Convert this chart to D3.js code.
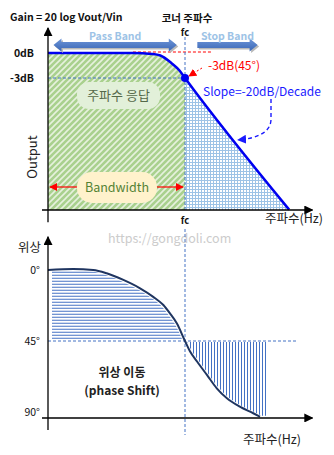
<!DOCTYPE html>
<html><head><meta charset="utf-8">
<script src="https://cdn.jsdelivr.net/npm/d3@7"></script>
<style>
body{margin:0;background:#fff}
svg{display:block}
text{font-family:"Noto Sans CJK KR","Noto Sans",sans-serif}
</style>
</head><body>
<svg id="c" width="334" height="455"></svg>
<script>
// ---- data (frequency position u, fc = 50) ----
const gainFreq = [0, 31, 38, 41, 45, 48, 50, 88];
const gainDb   = [0, 0, -0.12, -0.3, -1.2, -2.1, -3, -18.8];
const gainTicks = [0, -3];
const phaseFreq = [0, 9.2, 16.5, 21.4, 27.5, 33.6, 38.4, 42.1, 44.5, 47, 50, 51.8, 54.4, 58, 61.6, 65.3, 70, 74.9, 77.4];
const phaseDeg  = [0, -0.6, 0, 2.1, 6.3, 11.6, 17, 22.2, 27.5, 33.8, 45, 51.5, 58, 66.5, 75, 81.3, 86.6, 90.8, 93];
const phaseTicks = [0, 45, 90];
const fc = 50;
const bandNames = ["Pass Band", "Stop Band"];
const bandFrom  = [2, 54.5];
const bandTo    = [47, 76.5];
const bandBoth  = [true, false];
const gainBase = -18.84, gainTop = 3, gainBottom = -20.3;
const phaseBase = 93.8, phaseTop = -21, phaseBottom = 101.4;
const hatchEnd = 79.6;

const svg = d3.select("#c");
const defs = svg.append("defs");
const x = d3.scaleLinear().domain([0, 100]).range([48, 322]);
const yG = d3.scaleLinear().domain([0, -3]).range([53, 78]);
const yP = d3.scaleLinear().domain([0, 90]).range([270, 412]);

const gain = gainFreq.map((u, i) => ({u, v: gainDb[i]}));
const phase = phaseFreq.map((u, i) => ({u, v: phaseDeg[i]}));

// patterns
const gp = defs.append("pattern").attr("id", "green").attr("patternUnits", "userSpaceOnUse").attr("width", 6).attr("height", 6);
gp.append("rect").attr("width", 6).attr("height", 6).attr("fill", "#a9d18e");
gp.append("path").attr("d", "M-1,7L7,-1M-1,1L1,-1M5,7L7,5").attr("stroke", "#e6f1dd").attr("stroke-width", 1.6);
const gr = defs.append("pattern").attr("id", "grid").attr("patternUnits", "userSpaceOnUse").attr("width", 3).attr("height", 3);
gr.append("rect").attr("width", 3).attr("height", 3).attr("fill", "#fff");
gr.append("path").attr("d", "M0,0.5H3M0.5,0V3").attr("stroke", "#9dc3e6").attr("stroke-width", 1);
const grad = defs.append("linearGradient").attr("id", "arrowGrad").attr("x1", 0).attr("x2", 0).attr("y1", 0).attr("y2", 1);
grad.append("stop").attr("offset", "0%").attr("stop-color", "#6d95d8");
grad.append("stop").attr("offset", "100%").attr("stop-color", "#3a66b5");

function marker(id, color, size) {
  defs.append("marker").attr("id", id).attr("viewBox", "0 0 10 10")
    .attr("refX", 9).attr("refY", 5).attr("markerWidth", size).attr("markerHeight", size)
    .attr("orient", "auto").attr("markerUnits", "userSpaceOnUse")
    .append("path").attr("d", "M0,0L10,5L0,10z").attr("fill", color);
}
marker("ab", "#000", 9);
marker("ar", "#ff0000", 8);
marker("abl", "#1a1aff", 9);

const line = d3.line().x(d => x(d.u)).curve(d3.curveMonotoneX);

// ---- top chart: gain ----
const gainLeft = gain.filter(d => d.u <= fc);
const gainRight = gain.filter(d => d.u >= fc);
svg.append("path").datum(gainLeft)
  .attr("d", d3.area().x(d => x(d.u)).y0(yG(gainBase)).y1(d => yG(d.v)).curve(d3.curveMonotoneX))
  .attr("fill", "url(#green)");
svg.append("path").datum(gainRight)
  .attr("d", d3.area().x(d => x(d.u)).y0(yG(gainBase)).y1(d => yG(d.v)).curve(d3.curveMonotoneX))
  .attr("fill", "url(#grid)");

// dashed helper lines
svg.append("line").attr("x1", x(0)).attr("x2", x(fc)).attr("y1", yG(-3)).attr("y2", yG(-3))
  .attr("stroke", "#4472c4").attr("stroke-dasharray", "3,2");
svg.append("line").attr("x1", x(31)).attr("x2", x(60)).attr("y1", yG(0) - 1).attr("y2", yG(0) - 1)
  .attr("stroke", "#ff0000").attr("stroke-dasharray", "3,2");
svg.append("line").attr("x1", x(fc)).attr("x2", x(fc)).attr("y1", 37).attr("y2", yG(gainBase) + 2)
  .attr("stroke", "#4472c4").attr("stroke-dasharray", "3,2");

// gain curve
svg.append("path").attr("d", line.y(d => yG(d.v))(gain))
  .attr("fill", "none").attr("stroke", "#0000f0").attr("stroke-width", 2.5);
svg.append("circle").attr("cx", x(fc)).attr("cy", yG(-3)).attr("r", 4).attr("fill", "#0000f0");

// axes
svg.append("line").attr("x1", x(0)).attr("x2", x(0)).attr("y1", yG(gainBottom)).attr("y2", yG(gainTop))
  .attr("stroke", "#000").attr("stroke-width", 1.3).attr("marker-end", "url(#ab)");
svg.append("line").attr("x1", x(-2.2)).attr("x2", x(96.5)).attr("y1", yG(gainBase)).attr("y2", yG(gainBase))
  .attr("stroke", "#000").attr("stroke-width", 1.3).attr("marker-end", "url(#ab)");
svg.append("g").attr("transform", `translate(${x(0)},0)`)
  .call(d3.axisLeft(yG).tickValues(gainTicks).tickFormat(d => d + "dB").tickSize(0).tickPadding(14))
  .call(g => g.select(".domain").remove())
  .call(g => g.selectAll("text").attr("font-size", 10.5).attr("font-weight", "bold").attr("fill", "#111")
    .style("font-family", '"Noto Sans CJK KR",sans-serif'));

// band arrows
bandNames.forEach((name, i) => {
  const x1 = x(bandFrom[i]), x2 = x(bandTo[i]), y = 45, sh = 3, hh = 6.5, hl = 8;
  const p = bandBoth[i]
    ? `M${x1},${y}L${x1+hl},${y-hh}L${x1+hl},${y-sh}L${x2-hl},${y-sh}L${x2-hl},${y-hh}L${x2},${y}L${x2-hl},${y+hh}L${x2-hl},${y+sh}L${x1+hl},${y+sh}L${x1+hl},${y+hh}Z`
    : `M${x1},${y-sh}L${x2-hl},${y-sh}L${x2-hl},${y-hh}L${x2},${y}L${x2-hl},${y+hh}L${x2-hl},${y+sh}L${x1},${y+sh}Z`;
  svg.append("path").attr("d", p).attr("fill", "#b8b8b8").attr("transform", "translate(1.5,1.5)");
  svg.append("path").attr("d", p).attr("fill", "url(#arrowGrad)");
  svg.append("text").attr("x", (x1 + x2) / 2).attr("y", 40).attr("text-anchor", "middle")
    .attr("font-size", 10.5).attr("font-weight", "bold").attr("fill", "#9dc3e6").text(name);
});

// texts top
svg.append("text").attr("x", 10).attr("y", 21).attr("font-size", 10.5).attr("font-weight", "bold").attr("fill", "#111")
  .text("Gain = 20 log Vout/Vin");
svg.append("text").attr("x", 187).attr("y", 22).attr("text-anchor", "middle").attr("font-size", 10.5).attr("font-weight", "bold").attr("fill", "#111")
  .text("코너 주파수");
svg.append("text").attr("x", x(fc)).attr("y", 36).attr("text-anchor", "middle").attr("font-size", 9.5).attr("font-weight", "bold").attr("fill", "#111").text("fc");
svg.append("text").attr("x", x(fc)).attr("y", 224).attr("text-anchor", "middle").attr("font-size", 9.5).attr("font-weight", "bold").attr("fill", "#111").text("fc");
svg.append("text").attr("x", 208).attr("y", 70).attr("font-size", 12).attr("fill", "#ff0000").text("-3dB(45°)");
svg.append("line").attr("x1", 202).attr("y1", 68).attr("x2", 189).attr("y2", 76)
  .attr("stroke", "#ff0000").attr("stroke-dasharray", "2,2").attr("marker-end", "url(#ar)");
svg.append("text").attr("x", 203).attr("y", 96).attr("font-size", 12).attr("fill", "#1a1aff").text("Slope=-20dB/Decade");
svg.append("path").attr("d", "M271,99L271,119Q271,137 238,140")
  .attr("fill", "none").attr("stroke", "#1a1aff").attr("stroke-width", 1.4).attr("stroke-dasharray", "4,3")
  .attr("marker-end", "url(#abl)");

// boxes
svg.append("rect").attr("x", 77).attr("y", 82).attr("width", 83).attr("height", 27).attr("rx", 12).attr("fill", "#e2f0d9");
svg.append("text").attr("x", 118.5).attr("y", 100).attr("text-anchor", "middle").attr("font-size", 13).attr("fill", "#55694a").text("주파수 응답");
svg.append("line").attr("x1", 78).attr("x2", 50).attr("y1", 187).attr("y2", 187).attr("stroke", "#ff0000").attr("stroke-width", 1.2).attr("marker-end", "url(#ar)");
svg.append("line").attr("x1", 156).attr("x2", 183).attr("y1", 187).attr("y2", 187).attr("stroke", "#ff0000").attr("stroke-width", 1.2).attr("marker-end", "url(#ar)");
svg.append("rect").attr("x", 77).attr("y", 172).attr("width", 80).attr("height", 31).attr("rx", 15).attr("fill", "#fff2cc");
svg.append("text").attr("x", 117).attr("y", 192).attr("text-anchor", "middle").attr("font-size", 12.5).attr("fill", "#548235").text("Bandwidth");
svg.append("text").attr("transform", "translate(37,157) rotate(-90)").attr("text-anchor", "middle").attr("font-size", 13).attr("fill", "#222").text("Output");
svg.append("text").attr("x", 265).attr("y", 223).attr("font-size", 12.5).attr("fill", "#222").text("주파수(Hz)");
svg.append("text").attr("x", 108).attr("y", 243).attr("font-size", 12.5).attr("fill", "#cccccc").text("https://gongdoli.com");

// ---- bottom chart: phase ----
const phaseLeft = phase.filter(d => d.u <= fc);
const phaseRight = phase.filter(d => d.u >= fc);
defs.append("clipPath").attr("id", "clipL").append("path")
  .attr("d", d3.area().x(d => x(d.u)).y0(yP(45)).y1(d => yP(d.v)).curve(d3.curveMonotoneX)(phaseLeft))
  .attr("transform", "translate(-1.5,1.5)");
const rightPoly = phaseRight.concat([{u: hatchEnd, v: 93}, {u: hatchEnd, v: 45}]);
defs.append("clipPath").attr("id", "clipR").append("path")
  .attr("d", d3.line().x(d => x(d.u)).y(d => yP(d.v)).curve(d3.curveMonotoneX)(phaseRight) +
    rightPoly.slice(phaseRight.length).map(d => `L${x(d.u)},${yP(d.v)}`).join("") + "Z")
  .attr("transform", "translate(1.5,-1)");

const hg = svg.append("g").attr("clip-path", "url(#clipL)");
hg.selectAll("line").data(d3.range(yP(1.4), yP(44), 3)).join("line")
  .attr("x1", 52).attr("x2", x(fc)).attr("y1", d => d).attr("y2", d => d)
  .attr("stroke", "#4472c4").attr("stroke-width", 1.1);
const vg = svg.append("g").attr("clip-path", "url(#clipR)");
vg.selectAll("line").data(d3.range(x(fc) + 2.5, x(hatchEnd) + 0.5, 3)).join("line")
  .attr("x1", d => d).attr("x2", d => d).attr("y1", yP(45) + 1).attr("y2", yP(phaseBase))
  .attr("stroke", "#4472c4").attr("stroke-width", 1);

svg.append("line").attr("x1", x(0)).attr("x2", x(91.2)).attr("y1", yP(45)).attr("y2", yP(45))
  .attr("stroke", "#4472c4").attr("stroke-dasharray", "3,2");
svg.append("line").attr("x1", x(fc)).attr("x2", x(fc)).attr("y1", 229).attr("y2", 435)
  .attr("stroke", "#4472c4").attr("stroke-dasharray", "3,2");

svg.append("path").attr("d", d3.line().x(d => x(d.u)).y(d => yP(d.v)).curve(d3.curveMonotoneX)(phase))
  .attr("fill", "none").attr("stroke", "#1f3560").attr("stroke-width", 2);

svg.append("line").attr("x1", x(0)).attr("x2", x(0)).attr("y1", yP(phaseBottom)).attr("y2", yP(phaseTop))
  .attr("stroke", "#000").attr("stroke-width", 1.3).attr("marker-end", "url(#ab)");
svg.append("line").attr("x1", x(-2.2)).attr("x2", x(96.5)).attr("y1", yP(phaseBase)).attr("y2", yP(phaseBase))
  .attr("stroke", "#000").attr("stroke-width", 1.3).attr("marker-end", "url(#ab)");
svg.append("g").attr("transform", `translate(${x(0)},0)`)
  .call(d3.axisLeft(yP).tickValues(phaseTicks).tickFormat(d => d + "°").tickSize(0).tickPadding(8))
  .call(g => g.select(".domain").remove())
  .call(g => g.selectAll("text").attr("font-size", 10.5).attr("fill", "#111")
    .style("font-family", '"Noto Sans CJK KR",sans-serif'));

svg.append("text").attr("x", 18).attr("y", 252).attr("font-size", 12.5).attr("fill", "#222").text("위상");
svg.append("text").attr("x", 122).attr("y", 377).attr("text-anchor", "middle").attr("font-size", 12).attr("font-weight", "bold").attr("fill", "#222").text("위상 이동");
svg.append("text").attr("x", 122).attr("y", 395).attr("text-anchor", "middle").attr("font-size", 12).attr("font-weight", "bold").attr("fill", "#222").text("(phase Shift)");
svg.append("text").attr("x", 243).attr("y", 444).attr("font-size", 12.5).attr("fill", "#222").text("주파수(Hz)");
</script>
</body></html>
